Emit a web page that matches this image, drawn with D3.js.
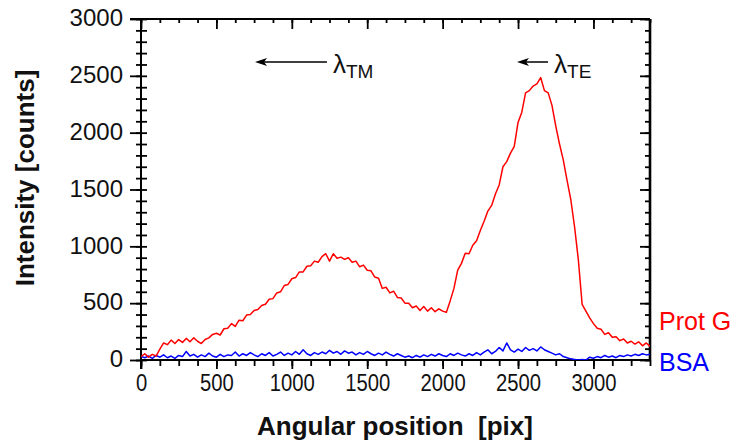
<!DOCTYPE html>
<html>
<head>
<meta charset="utf-8">
<script src="https://d3js.org/d3.v7.min.js"></script>
<style>
  body { margin: 0; background: #fff; }
  svg { display: block; font-family: "Liberation Sans", Arial, sans-serif; }
</style>
</head>
<body>
<div id="chart"></div>
<script>
var width = 737,
  height = 444;

// angular position grid (pix), one value every 25 pix
var xStep = 25;

// Prot G intensity (counts)
var protG = [
  30, 55, 25, 50, 35, 95, 150, 135, 175, 145, 180, 155, 190, 160, 195, 165,
  145, 180, 195, 225, 235, 220, 275, 280, 320, 295, 350, 345, 395, 400, 435, 445,
  480, 490, 535, 540, 590, 600, 655, 665, 715, 725, 775, 775, 825, 830, 870, 860,
  910, 935, 870, 935, 895, 905, 885, 900, 860, 870, 820, 835, 790, 785, 730, 720,
  630, 640, 590, 605, 550, 545, 500, 500, 460, 475, 435, 470, 430, 460, 425, 450,
  430, 420, 520, 630, 790, 850, 940, 935, 1010, 1050, 1140, 1220, 1310, 1360, 1460, 1540,
  1700, 1745, 1820, 1880, 2090, 2180, 2350, 2370, 2410, 2430, 2485, 2370, 2350, 2240, 2060, 1900,
  1760, 1580, 1410, 1170, 880, 490, 430, 370, 320, 280, 270, 225, 240, 200, 205, 170,
  185, 150, 165, 140, 160, 125, 150, 120
];

// BSA intensity (counts)
var bsa = [
  30, 20, 35, 15, 40, 25, 45, 20, 35, 15, 40, 30, 75, 35, 50, 25,
  45, 30, 60, 35, 25, 50, 30, 45, 40, 70, 35, 55, 40, 65, 45, 30,
  55, 40, 65, 35, 50, 70, 40, 60, 45, 75, 50, 90, 55, 40, 65, 50,
  70, 55, 85, 60, 75, 50, 80, 60, 70, 45, 65, 50, 75, 55, 40, 60,
  45, 70, 50, 35, 55, 40, 25, 35, 20, 40, 25, 45, 30, 50, 35, 55,
  40, 30, 55, 40, 60, 45, 35, 55, 40, 65, 45, 70, 90, 55, 75, 110,
  80, 150, 90, 70, 95, 75, 110, 85, 100, 80, 115, 90, 75, 60, 45, 55,
  30, 20, 10, 5, 0, 5, 0, 25, 15, 30, 20, 40, 25, 35, 20, 40,
  30, 45, 35, 50, 40, 55, 45, 50
];

var xDomain = [0, 3375],
  yDomain = [0, 3000];
var xMajor = [0, 500, 1000, 1500, 2000, 2500, 3000];
var yMajor = [0, 500, 1000, 1500, 2000, 2500, 3000];

var series = [
  { name: "Prot G", values: protG, color: "#ff0000" },
  { name: "BSA", values: bsa, color: "#0000ff" }
];

// arrows: from -> to (pix), label sits just right of "from"
var notes = [
  { from: 1233, to: 756, sub: "TM" },
  { from: 2699, to: 2493, sub: "TE" }
];

var margin = { top: 19, right: 87, bottom: 84, left: 141 },
  w = width - margin.left - margin.right,
  h = height - margin.top - margin.bottom;

var svg = d3.select("#chart")
  .append("svg")
  .attr("width", width)
  .attr("height", height);

var defs = svg.append("defs");
defs.append("clipPath").attr("id", "plot-clip")
  .append("rect").attr("width", w).attr("height", h + 1).attr("y", -1);

defs.append("marker")
  .attr("id", "head")
  .attr("viewBox", "0 0 12 8")
  .attr("refX", 4).attr("refY", 4)
  .attr("markerWidth", 12).attr("markerHeight", 8)
  .attr("markerUnits", "userSpaceOnUse")
  .attr("orient", "auto")
  .append("path")
  .attr("d", "M12,4 L0,0 L3,4 L0,8 Z")
  .attr("fill", "#000");

var g = svg.append("g").attr("transform", "translate(" + margin.left + "," + margin.top + ")");

var x = d3.scaleLinear().domain(xDomain).range([0, w]);
var y = d3.scaleLinear().domain(yDomain).range([h, 0]);

var xMinor = d3.range(0, xDomain[1] + 1, 125);
var yMinor = d3.range(0, yDomain[1] + 1, 100);

// minor ticks
function minor(axis, ticks, size) {
  return axis.tickValues(ticks).tickSize(size).tickFormat("");
}
g.append("g").attr("class", "axis").attr("transform", "translate(0," + h + ")")
  .call(minor(d3.axisBottom(x), xMinor, 6));
g.append("g").attr("class", "axis")
  .call(minor(d3.axisTop(x), xMinor, -4));
g.append("g").attr("class", "axis").attr("transform", "translate(" + w + ",0)")
  .call(minor(d3.axisRight(y), yMinor, -5));
g.append("g").attr("class", "axis left-minor").attr("transform", "translate(6,0)")
  .call(minor(d3.axisLeft(y), yMinor, 11));

// major ticks with labels
var xAxis = g.append("g").attr("class", "axis").attr("transform", "translate(0," + h + ")")
  .call(d3.axisBottom(x).tickValues(xMajor).tickSize(9).tickPadding(6).tickFormat(d3.format("d")));
xAxis.selectAll("text")
  .attr("font-size", 23)
  .attr("transform", "scale(0.88,1)");

g.append("g").attr("class", "axis")
  .call(d3.axisTop(x).tickValues(xMajor).tickSize(-10).tickFormat(""));
g.append("g").attr("class", "axis").attr("transform", "translate(" + w + ",0)")
  .call(d3.axisRight(y).tickValues(yMajor).tickSize(-10).tickFormat(""));

var yAxis = g.append("g").attr("class", "axis")
  .call(d3.axisLeft(y).tickValues(yMajor).tickSize(11).tickPadding(7).tickFormat(d3.format("d")));
yAxis.selectAll("text").attr("font-size", 24).attr("dy", "0.28em");

g.selectAll(".axis .domain").remove();
g.selectAll(".axis line").attr("stroke", "#000").attr("stroke-width", 1.8);
g.selectAll(".axis text").attr("fill", "#111").attr("font-family", "Liberation Sans, Arial, sans-serif");

// frame
g.append("line").attr("x1", -11).attr("x2", w).attr("y1", 0).attr("y2", 0)
  .attr("stroke", "#000").attr("stroke-width", 2);
g.append("line").attr("x1", 0).attr("x2", w).attr("y1", h).attr("y2", h)
  .attr("stroke", "#000").attr("stroke-width", 2);
g.append("line").attr("x1", 0).attr("x2", 0).attr("y1", 0).attr("y2", h + 9)
  .attr("stroke", "#000").attr("stroke-width", 2);
g.append("line").attr("x1", w).attr("x2", w).attr("y1", 0).attr("y2", h)
  .attr("stroke", "#000").attr("stroke-width", 2.6);

// data lines
var line = d3.line()
  .x(function(d, i) { return x(i * xStep); })
  .y(function(d) { return y(d); });

var plot = g.append("g").attr("clip-path", "url(#plot-clip)");
plot.selectAll(".series")
  .data(series.slice().reverse())
  .enter().append("path")
  .attr("class", "series")
  .attr("d", function(d) { return line(d.values); })
  .attr("fill", "none")
  .attr("stroke", function(d) { return d.color; })
  .attr("stroke-width", 1.5)
  .attr("stroke-linejoin", "round");

// legend labels at right
var legendY = [330, 371];
svg.selectAll(".legend")
  .data(series)
  .enter().append("text")
  .attr("class", "legend")
  .attr("x", 659)
  .attr("y", function(d, i) { return legendY[i]; })
  .attr("font-size", 25)
  .attr("fill", function(d) { return d.color; })
  .text(function(d) { return d.name; });

// lambda annotations
var ann = g.selectAll(".note").data(notes).enter().append("g").attr("class", "note");
ann.append("line")
  .attr("x1", function(d) { return x(d.from); })
  .attr("x2", function(d) { return x(d.to) + 8; })
  .attr("y1", 43).attr("y2", 43)
  .attr("stroke", "#000").attr("stroke-width", 1.5)
  .attr("marker-end", "url(#head)");
var lab = ann.append("text")
  .attr("x", function(d) { return x(d.from) + 6; })
  .attr("y", 54)
  .attr("font-size", 26)
  .attr("fill", "#111");
lab.append("tspan").text("\u03bb");
lab.append("tspan").attr("dy", 5).attr("font-size", 19).text(function(d) { return d.sub; });

// axis titles
svg.append("text")
  .attr("x", margin.left + 254)
  .attr("y", 435)
  .attr("text-anchor", "middle")
  .attr("font-size", 26)
  .attr("font-weight", "bold")
  .attr("fill", "#111")
  .attr("xml:space", "preserve")
  .style("white-space", "pre")
  .text("Angular position  [pix]");

svg.append("text")
  .attr("transform", "translate(34,178) rotate(-90)")
  .attr("text-anchor", "middle")
  .attr("font-size", 26)
  .attr("font-weight", "bold")
  .attr("fill", "#111")
  .text("Intensity [counts]");
</script>
</body>
</html>
